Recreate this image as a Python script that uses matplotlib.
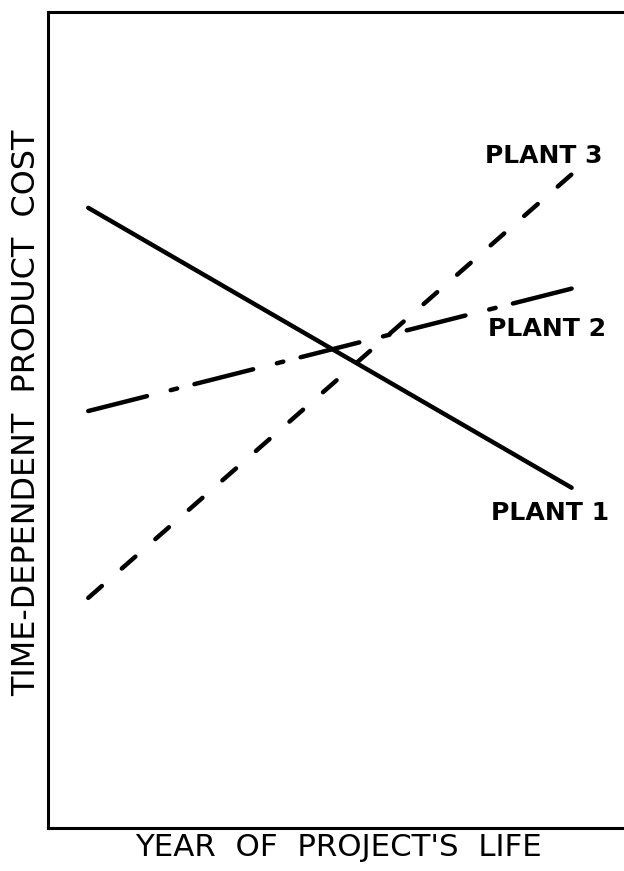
import matplotlib
matplotlib.use("Agg")
import matplotlib.pyplot as plt

plt.rcParams['lines.scale_dashes'] = False
plt.rcParams['font.family'] = ['DejaVu Sans']

# data (arbitrary units)
years = [1, 13]
plant1 = [7.60, 4.17]
plant2 = [5.11, 6.61]
plant3 = [2.82, 8.01]
labels = ["PLANT 1", "PLANT 2", "PLANT 3"]
label_pos = [(12.47, 3.86), (12.4, 6.12), (12.32, 8.24)]

fig = plt.figure(figsize=(6.24, 8.71), dpi=100)
ax = fig.add_axes([48/624, 43/871, 580/624, 816/871])
ax.set_xlim(0, 14.4)
ax.set_ylim(0, 10)

lw = 3.2
ax.plot(years, plant1, color='black', lw=lw, solid_capstyle='round')
ax.plot(years, plant2, color='black', lw=lw, dash_capstyle='round',
        linestyle=(0, (43.6, 17.6, 4.8, 12.85)))
ax.plot(years, plant3, color='black', lw=lw, dash_capstyle='round',
        linestyle=(0, (13, 19.1)))

txts = []
for lab, (x, y) in zip(labels, label_pos):
    t = ax.text(x, y, lab, fontsize=17, fontweight='bold', ha='center', va='center')
    txts.append((t, 118))

ax.set_xticks([])
ax.set_yticks([])
for s in ax.spines.values():
    s.set_linewidth(2.2)

xl = fig.text(338/624, 1 - 847/871, "YEAR  OF  PROJECT'S  LIFE", fontsize=21,
              ha='center', va='center')
yl = fig.text(27/624, 1 - 413/871, "TIME-DEPENDENT  PRODUCT  COST", fontsize=19,
              ha='center', va='center', rotation=90)
txts.append((xl, 406))
txts.append((yl, 566))

# fit text sizes to the widths seen in the reference
fig.canvas.draw()
r = fig.canvas.get_renderer()
for t, target in txts:
    bb = t.get_window_extent(r)
    size = max(bb.width, bb.height)
    t.set_fontsize(t.get_fontsize() * target / size)

fig.savefig("out.png", dpi=100)
